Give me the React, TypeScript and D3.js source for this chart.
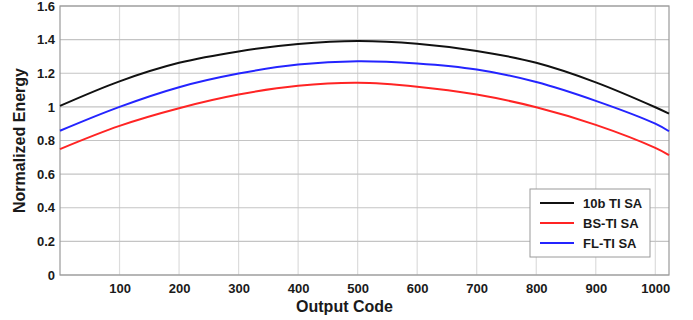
import { useEffect, useRef } from 'react';
import * as d3 from 'd3';

const codes = [0, 100, 200, 300, 400, 500, 600, 700, 800, 900, 1000, 1023];
const tiSA = [1.006, 1.152, 1.262, 1.33, 1.374, 1.392, 1.376, 1.333, 1.262, 1.146, 0.998, 0.96];
const bsTiSA = [0.749, 0.887, 0.992, 1.073, 1.125, 1.143, 1.12, 1.073, 0.998, 0.893, 0.756, 0.713];
const flTiSA = [0.858, 1.0, 1.117, 1.198, 1.252, 1.272, 1.258, 1.222, 1.148, 1.036, 0.9, 0.855];

const xTicks = [100, 200, 300, 400, 500, 600, 700, 800, 900, 1000];
const yTicks = [0, 0.2, 0.4, 0.6, 0.8, 1, 1.2, 1.4, 1.6];

const series = [
  { name: '10b TI SA', values: tiSA, color: '#111111' },
  { name: 'BS-TI SA', values: bsTiSA, color: '#ff2424' },
  { name: 'FL-TI SA', values: flTiSA, color: '#2424ff' },
];

const width = 693;
const height = 320;
const font = "'Liberation Sans', Arial, sans-serif";

export default function App() {
  const svgRef = useRef<SVGSVGElement>(null);

  useEffect(() => {
    if (!svgRef.current) return;
    const svg = d3.select(svgRef.current);
    svg.selectAll('*').remove();

    const margin = { top: 6, right: 24, bottom: 45, left: 60 };
    const innerWidth = width - margin.left - margin.right;
    const innerHeight = height - margin.top - margin.bottom;

    const g = svg
      .append('g')
      .attr('transform', `translate(${margin.left},${margin.top})`);

    const x = d3.scaleLinear().domain([0, 1023]).range([0, innerWidth]);
    const y = d3.scaleLinear().domain([0, 1.6]).range([innerHeight, 0]);

    // grid
    g.selectAll('line.vgrid')
      .data(xTicks)
      .join('line')
      .attr('class', 'vgrid')
      .attr('x1', (d) => x(d))
      .attr('x2', (d) => x(d))
      .attr('y1', 0)
      .attr('y2', innerHeight)
      .attr('stroke', '#dcdcdc')
      .attr('stroke-width', 1.2);

    g.selectAll('line.hgrid')
      .data(yTicks)
      .join('line')
      .attr('class', 'hgrid')
      .attr('x1', 0)
      .attr('x2', innerWidth)
      .attr('y1', (d) => y(d))
      .attr('y2', (d) => y(d))
      .attr('stroke', '#c4c4c4')
      .attr('stroke-width', 1.2);

    // frame
    g.append('rect')
      .attr('width', innerWidth)
      .attr('height', innerHeight)
      .attr('fill', 'none')
      .attr('stroke', '#9a9a9a')
      .attr('stroke-width', 1.2);

    // x axis
    const xAxis = g
      .append('g')
      .attr('transform', `translate(0,${innerHeight})`)
      .call(d3.axisBottom(x).tickValues(xTicks).tickSize(0).tickPadding(9).tickFormat(d3.format('d')));
    xAxis.select('.domain').remove();
    xAxis
      .selectAll('text')
      .attr('fill', '#1a1a1a')
      .attr('font-family', font)
      .attr('font-weight', 'bold')
      .attr('font-size', 13);

    // y axis
    const yAxis = g
      .append('g')
      .call(d3.axisLeft(y).tickValues(yTicks).tickSize(0).tickPadding(5).tickFormat((d) => String(+d)));
    yAxis.select('.domain').remove();
    yAxis
      .selectAll('text')
      .attr('fill', '#1a1a1a')
      .attr('font-family', font)
      .attr('font-weight', 'bold')
      .attr('font-size', 13);

    // lines
    const line = d3
      .line<number>()
      .x((_, i) => x(codes[i]))
      .y((d) => y(d))
      .curve(d3.curveCatmullRom.alpha(0.5));

    series.forEach((s) => {
      g.append('path')
        .datum(s.values)
        .attr('fill', 'none')
        .attr('stroke', s.color)
        .attr('stroke-width', 2)
        .attr('d', line);
    });

    // axis titles
    svg
      .append('text')
      .attr('x', margin.left + innerWidth / 2 - 20)
      .attr('y', 312)
      .attr('text-anchor', 'middle')
      .attr('fill', '#1a1a1a')
      .attr('font-family', font)
      .attr('font-weight', 'bold')
      .attr('font-size', 16)
      .text('Output Code');

    svg
      .append('text')
      .attr('transform', `translate(25,${margin.top + innerHeight / 2}) rotate(-90)`)
      .attr('text-anchor', 'middle')
      .attr('fill', '#1a1a1a')
      .attr('font-family', font)
      .attr('font-weight', 'bold')
      .attr('font-size', 16)
      .text('Normalized Energy');

    // legend
    const legend = svg.append('g').attr('transform', 'translate(530,189)');
    legend
      .append('rect')
      .attr('width', 120)
      .attr('height', 68)
      .attr('fill', '#fff')
      .attr('stroke', '#9a9a9a')
      .attr('stroke-width', 1);
    series.forEach((s, i) => {
      const row = legend.append('g').attr('transform', `translate(0,${14 + i * 20})`);
      row
        .append('line')
        .attr('x1', 10)
        .attr('x2', 44)
        .attr('stroke', s.color)
        .attr('stroke-width', 2);
      row
        .append('text')
        .attr('x', 53)
        .attr('dy', '0.35em')
        .attr('fill', '#1a1a1a')
        .attr('font-family', font)
        .attr('font-weight', 'bold')
        .attr('font-size', 13)
        .text(s.name);
    });
  }, []);

  return (
    <svg
      ref={svgRef}
      width={width}
      height={height}
      style={{ position: 'absolute', left: 0, top: 0, background: '#fff' }}
    />
  );
}
